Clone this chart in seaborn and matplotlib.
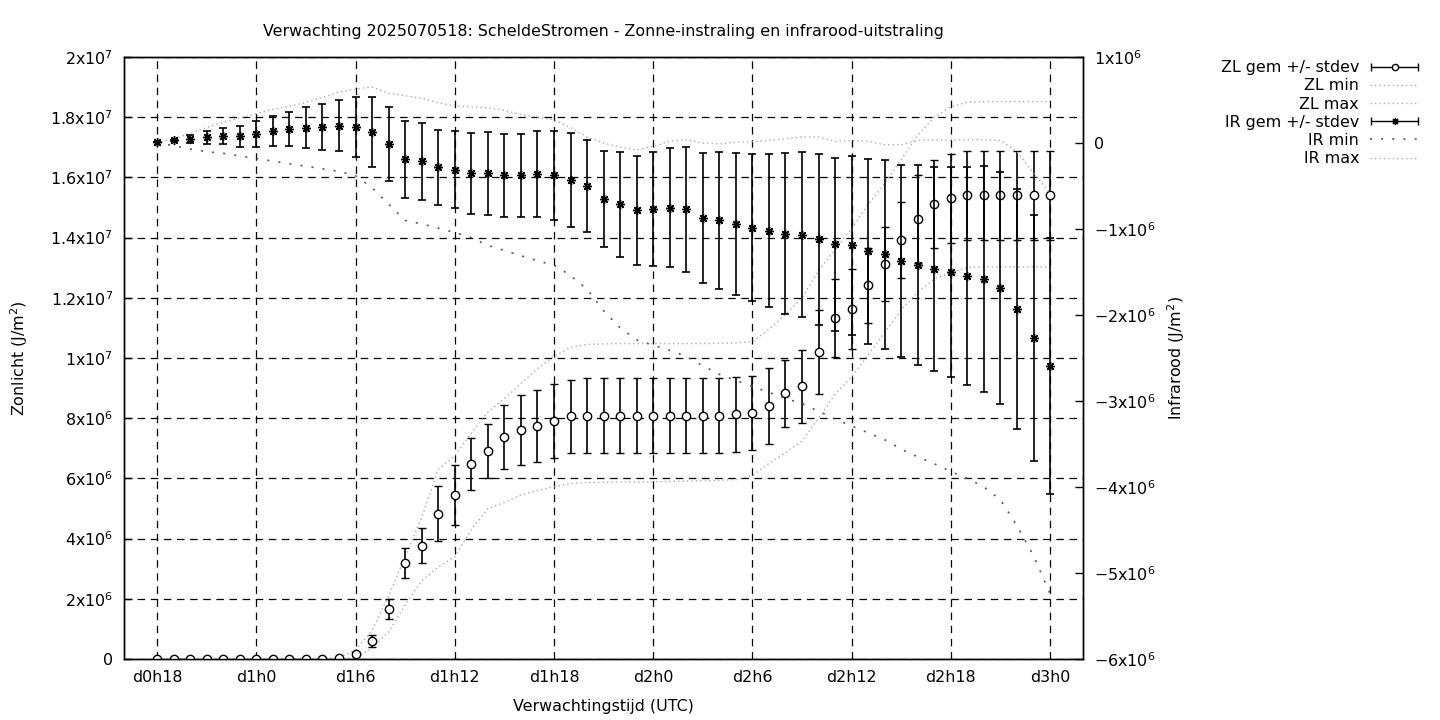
import numpy as np
import matplotlib
matplotlib.use("Agg")
import matplotlib.pyplot as plt
import seaborn as sns
from matplotlib.container import ErrorbarContainer
from matplotlib.legend_handler import HandlerErrorbar

# =============================================================================
# Data, J/m2 in units of 1e6
# =============================================================================
lead_hours = list(range(18, 73))  # hourly forecast steps, d0h18 .. d3h0

zl_mean = [0, 0, 0, 0, 0, 0, 0, 0, 0, 0, 0, 0.03, 0.17, 0.60, 1.65, 3.18, 3.77,
           4.83, 5.45, 6.48, 6.91, 7.38, 7.61, 7.74, 7.91, 8.06, 8.09, 8.09, 8.09,
           8.09, 8.09, 8.09, 8.09, 8.09, 8.09, 8.13, 8.18, 8.41, 8.83, 9.06, 10.19,
           11.32, 11.62, 12.41, 13.13, 13.91, 14.61, 15.11, 15.31, 15.40, 15.40,
           15.40, 15.40, 15.40, 15.40]
zl_sd = [0, 0, 0, 0, 0, 0, 0, 0, 0, 0, 0, 0.02, 0.07, 0.20, 0.33, 0.50, 0.58,
         0.92, 1.00, 0.85, 0.91, 1.06, 1.16, 1.21, 1.23, 1.22, 1.24, 1.24, 1.24,
         1.24, 1.24, 1.24, 1.24, 1.24, 1.24, 1.24, 1.23, 1.27, 1.12, 1.22, 1.40,
         1.30, 1.33, 1.26, 1.22, 1.26, 1.46, 1.46, 1.48, 1.48, 1.48, 1.48, 1.48,
         1.48, 1.48]
zl_min = [0, 0, 0, 0, 0, 0, 0, 0, 0, 0, 0, 0, 0.05, 0.35, 0.90, 1.80, 2.60,
          3.05, 3.40, 4.30, 5.00, 5.20, 5.45, 5.60, 5.72, 5.83, 5.86, 5.87, 5.88,
          5.88, 5.89, 5.90, 5.91, 5.92, 5.94, 5.96, 6.10, 6.50, 6.85, 7.25, 8.00,
          8.80, 9.38, 10.10, 10.85, 11.60, 12.20, 12.62, 12.85, 13.00, 13.03,
          13.03, 13.03, 13.03, 13.03]
zl_max = [0, 0, 0, 0, 0, 0, 0, 0, 0, 0, 0, 0.05, 0.30, 0.95, 2.10, 3.40, 4.70,
          6.30, 6.75, 7.50, 8.20, 8.65, 9.15, 9.65, 10.05, 10.35, 10.45, 10.47,
          10.48, 10.48, 10.48, 10.48, 10.48, 10.48, 10.49, 10.50, 10.55, 10.95,
          11.45, 12.00, 12.90, 13.60, 14.30, 15.10, 15.80, 16.60, 17.40, 18.00,
          18.35, 18.50, 18.52, 18.52, 18.52, 18.52, 18.52]

ir_mean = [0.01, 0.03, 0.05, 0.066, 0.078, 0.078, 0.105, 0.14, 0.163, 0.18,
           0.19, 0.20, 0.19, 0.128, -0.015, -0.19, -0.21, -0.28, -0.31, -0.35,
           -0.35, -0.376, -0.376, -0.364, -0.376, -0.434, -0.50, -0.65, -0.71,
           -0.78, -0.77, -0.75, -0.77, -0.876, -0.90, -0.945, -0.983, -1.018,
           -1.053, -1.064, -1.120, -1.178, -1.190, -1.259, -1.294, -1.376,
           -1.422, -1.469, -1.504, -1.550, -1.585, -1.690, -1.934, -2.271, -2.597]
ir_sd = [0.0, 0.01, 0.045, 0.072, 0.093, 0.122, 0.149, 0.177, 0.20, 0.235,
         0.267, 0.297, 0.349, 0.407, 0.43, 0.448, 0.448, 0.436, 0.448, 0.471,
         0.483, 0.483, 0.483, 0.50, 0.517, 0.547, 0.54, 0.558, 0.61, 0.634,
         0.663, 0.692, 0.727, 0.756, 0.80, 0.826, 0.856, 0.891, 0.937, 0.960,
         0.995, 1.007, 1.042, 1.077, 1.100, 1.116, 1.163, 1.186, 1.221, 1.267,
         1.314, 1.349, 1.395, 1.430, 1.488]
ir_min = [0.0, -0.03, -0.07, -0.10, -0.12, -0.15, -0.18, -0.21, -0.24, -0.27,
          -0.30, -0.33, -0.38, -0.52, -0.71, -0.90, -0.94, -0.99, -1.04, -1.10,
          -1.19, -1.25, -1.31, -1.37, -1.42, -1.54, -1.70, -1.95, -2.15, -2.29,
          -2.35, -2.41, -2.48, -2.59, -2.69, -2.76, -2.83, -2.90, -2.97, -3.03,
          -3.12, -3.21, -3.29, -3.37, -3.45, -3.56, -3.65, -3.73, -3.82, -3.90,
          -4.00, -4.15, -4.45, -4.80, -5.24]
ir_max = [0.0, 0.05, 0.11, 0.18, 0.24, 0.29, 0.34, 0.39, 0.43, 0.47, 0.53,
          0.59, 0.63, 0.65, 0.58, 0.55, 0.52, 0.47, 0.43, 0.42, 0.41, 0.38,
          0.33, 0.30, 0.27, 0.18, 0.07, 0.0, -0.05, -0.08, -0.04, 0.02, 0.04,
          0.0, -0.01, 0.01, 0.015, 0.03, 0.05, 0.07, 0.07, 0.02, 0.03, 0.02,
          -0.02, -0.02, 0.03, 0.035, 0.035, 0.04, 0.04, 0.03, -0.10, -0.35, -0.58]

SCALE = 1e6

x_ticks = [18, 24, 30, 36, 42, 48, 54, 60, 66, 72]
x_ticklabels = ["d0h18", "d1h0", "d1h6", "d1h12", "d1h18", "d2h0", "d2h6",
                "d2h12", "d2h18", "d3h0"]
zl_ticks = [0, 2e6, 4e6, 6e6, 8e6, 1e7, 1.2e7, 1.4e7, 1.6e7, 1.8e7, 2e7]
zl_ticklabels = ["0", "$2x10^{6}$", "$4x10^{6}$", "$6x10^{6}$", "$8x10^{6}$",
                 "$1x10^{7}$", "$1.2x10^{7}$", "$1.4x10^{7}$", "$1.6x10^{7}$",
                 "$1.8x10^{7}$", "$2x10^{7}$"]
ir_ticks = [1e6, 0, -1e6, -2e6, -3e6, -4e6, -5e6, -6e6]
ir_ticklabels = ["$1x10^{6}$", "0", "$-1x10^{6}$", "$-2x10^{6}$", "$-3x10^{6}$",
                 "$-4x10^{6}$", "$-5x10^{6}$", "$-6x10^{6}$"]

# =============================================================================
# Plot
# =============================================================================
sns.set_theme(style="white")
plt.rcParams["font.family"] = ["DejaVu Sans"]
plt.rcParams["mathtext.default"] = "regular"
plt.rcParams["text.color"] = "black"
plt.rcParams["axes.labelcolor"] = "black"
FS = 11.4

DOT = (0, (1, 2.2))       # fine gray dots (ZL min/max, IR max)
SPARSE = (0, (1.2, 5.5))  # sparse darker dots (IR min)

hours = np.array(lead_hours)
to_j = lambda v: np.array(v) * SCALE

fig = plt.figure(figsize=(14.4, 7.2), dpi=100)
ax = fig.add_axes([0.0861, 0.0847, 0.6661, 0.8361])
ax2 = ax.twinx()

err_kw = dict(color="black", ecolor="black", elinewidth=1.2, capsize=3.0,
              capthick=1.2, linestyle="none")

# --- Zonlicht (left axis) ---
ax.errorbar(hours, to_j(zl_mean), yerr=to_j(zl_sd), fmt="o", markersize=6,
            markerfacecolor="white", markeredgecolor="black",
            markeredgewidth=1.0, zorder=3, label="_nolegend_", **err_kw)
sns.lineplot(x=hours, y=to_j(zl_min), ax=ax, color="#aaaaaa",
             linestyle=DOT, linewidth=1.0, zorder=2)
sns.lineplot(x=hours, y=to_j(zl_max), ax=ax, color="#aaaaaa",
             linestyle=DOT, linewidth=1.0, zorder=2)

# --- Infrarood (right axis) ---
ax2.errorbar(hours, to_j(ir_mean), yerr=to_j(ir_sd), fmt="none", zorder=3,
             label="_nolegend_", **err_kw)
ax2.plot(hours, to_j(ir_mean), linestyle="none", marker=(8, 2, 0),
         markersize=6.5, markeredgewidth=1.0, color="black", zorder=4)
sns.lineplot(x=hours, y=to_j(ir_min), ax=ax2, color="#555555",
             linestyle=SPARSE, linewidth=1.2, zorder=2)
sns.lineplot(x=hours, y=to_j(ir_max), ax=ax2, color="#aaaaaa",
             linestyle=DOT, linewidth=1.0, zorder=2)

# --- Axes ---
ax.set_xlim(16, 74)
ax.set_ylim(0, 2e7)
ax2.set_ylim(-6e6, 1e6)
ax.set_xticks(x_ticks)
ax.set_xticklabels(x_ticklabels, fontsize=FS)
ax.set_yticks(zl_ticks)
ax.set_yticklabels(zl_ticklabels, fontsize=FS)
ax2.set_yticks(ir_ticks)
ax2.set_yticklabels(ir_ticklabels, fontsize=FS)

ax.grid(True, color="black", linestyle=(0, (6, 4.5)), linewidth=0.9)
ax.tick_params(axis="both", direction="in", length=6, width=1, color="black",
               pad=8, labelcolor="black")
ax2.tick_params(axis="y", direction="in", length=6, width=1, color="black",
                pad=8, labelcolor="black")
for a in (ax, ax2):
    for s in a.spines.values():
        s.set_color("black")
        s.set_linewidth(1.0)

ax.set_xlabel("Verwachtingstijd (UTC)", fontsize=FS, labelpad=10)
ax.set_ylabel("Zonlicht (J/m$^2$)", fontsize=FS, labelpad=14)
ax2.set_ylabel("Infrarood (J/m$^2$)", fontsize=FS, labelpad=7)
ax.set_title("Verwachting 2025070518: ScheldeStromen - "
             "Zonne-instraling en infrarood-uitstraling", fontsize=FS, pad=15)

# --- Legend (gnuplot style, text right aligned, sample on the right) ---
h_zl = ax.errorbar([np.nan], [np.nan], xerr=[1], fmt="o", color="black",
                   markerfacecolor="white", markeredgecolor="black",
                   markersize=4.5, elinewidth=1.0, capsize=3.0, capthick=1.0)
h_ir = ax2.errorbar([np.nan], [np.nan], xerr=[1], fmt="none", color="black",
                    elinewidth=1.0, capsize=3.0, capthick=1.0)
h_ir_marker = ax2.plot([np.nan], [np.nan], linestyle="none", marker=(8, 2, 0),
                       markersize=5, markeredgewidth=0.9, color="black")[0]
h_ir_full = ErrorbarContainer((h_ir_marker, h_ir.lines[1], h_ir.lines[2]),
                              has_xerr=True, has_yerr=False)
handles = [
    h_zl,
    plt.Line2D([], [], color="#aaaaaa", linestyle=DOT, linewidth=1.0),
    plt.Line2D([], [], color="#aaaaaa", linestyle=DOT, linewidth=1.0),
    h_ir_full,
    plt.Line2D([], [], color="#555555", linestyle=SPARSE, linewidth=1.2),
    plt.Line2D([], [], color="#aaaaaa", linestyle=DOT, linewidth=1.0),
]
labels = ["ZL gem +/- stdev", "ZL min", "ZL max", "IR gem +/- stdev", "IR min",
          "IR max"]
fig.legend(handles, labels, loc="upper right", bbox_to_anchor=(0.99, 0.925),
           frameon=False, fontsize=FS, markerfirst=False, handlelength=3.1,
           handletextpad=0.7, labelspacing=0.2, borderaxespad=0,
           handler_map={ErrorbarContainer: HandlerErrorbar(xerr_size=1.5)})

fig.savefig("out.png", dpi=100)
